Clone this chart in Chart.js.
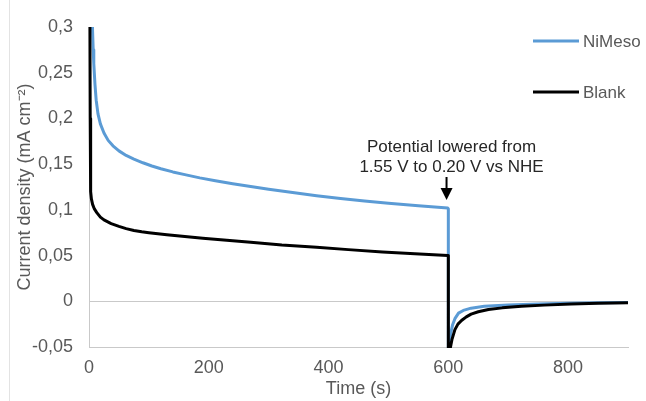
<!DOCTYPE html>
<html>
<head>
<meta charset="utf-8">
<script src="https://cdn.jsdelivr.net/npm/chart.js@4/dist/chart.umd.min.js"></script>
<style>
  html, body { margin: 0; padding: 0; background: #ffffff; }
  #wrap { width: 646px; height: 401px; position: relative; }
</style>
</head>
<body>
<div id="wrap"><canvas id="c" width="646" height="401"></canvas></div>
<script>
// ---- data ----
const nimesoTime = [5, 6, 7, 8, 10, 12, 15, 19, 25, 32, 40, 50, 62, 75, 90, 105, 120, 140, 160, 185, 211, 240, 270, 300, 340, 380, 420, 460, 500, 550, 599, 600, 600, 602, 604, 607, 611, 617, 625, 638, 660, 700, 750, 800, 850, 900];
const nimesoCurrent = [0.32, 0.295, 0.275, 0.26, 0.237, 0.22, 0.205, 0.194, 0.184, 0.176, 0.170, 0.1645, 0.1595, 0.1555, 0.1515, 0.148, 0.145, 0.1415, 0.1385, 0.135, 0.1318, 0.1285, 0.1255, 0.1225, 0.119, 0.1155, 0.1125, 0.1098, 0.1073, 0.1045, 0.102, 0.101, -0.06, -0.045, -0.035, -0.026, -0.019, -0.013, -0.010, -0.0075, -0.0055, -0.004, -0.003, -0.0022, -0.0016, -0.0012];
const blankTime = [1.5, 2, 2.5, 3, 4, 6, 9, 13, 19, 25, 37, 50, 62, 75, 88, 100, 130, 160, 190, 230, 270, 322, 380, 433, 490, 544, 599, 600, 600, 603, 606, 611, 616, 622, 630, 638, 650, 667, 690, 722, 760, 805, 850, 900];
const blankCurrent = [0.31, 0.2, 0.14, 0.12, 0.112, 0.106, 0.101, 0.097, 0.092, 0.089, 0.085, 0.082, 0.0795, 0.0775, 0.076, 0.075, 0.0728, 0.0708, 0.069, 0.0668, 0.0645, 0.0615, 0.059, 0.0565, 0.054, 0.052, 0.050, 0.050, -0.06, -0.052, -0.042, -0.031, -0.025, -0.021, -0.017, -0.014, -0.0115, -0.009, -0.0072, -0.0055, -0.0042, -0.003, -0.0022, -0.0015];
const seriesNames = ['NiMeso', 'Blank'];
const xTicks = [0, 200, 400, 600, 800];
const yTicks = [-0.05, 0, 0.05, 0.1, 0.15, 0.2, 0.25, 0.3];
const yTickLabels = ['-0,05', '0', '0,05', '0,1', '0,15', '0,2', '0,25', '0,3'];
const xTitle = 'Time (s)';
const yTitle = 'Current density (mA cm\u207B\u00B2)';
const annotationLines = ['Potential lowered from', '1.55 V to 0.20 V vs NHE'];
const annotationTime = 597;

// ---- chart ----
const FONT = '"Liberation Sans", Arial, sans-serif';
const toPoints = (xs, ys) => xs.map((x, i) => ({ x: x, y: ys[i] }));

const decoPlugin = {
  id: 'deco',
  beforeDraw(chart) {
    const ctx = chart.ctx;
    ctx.save();
    ctx.fillStyle = '#ffffff';
    ctx.fillRect(0, 0, chart.width, chart.height);
    ctx.strokeStyle = '#e3e3e3';
    ctx.lineWidth = 1;
    ctx.beginPath();
    ctx.moveTo(9.5, 0);
    ctx.lineTo(9.5, chart.height);
    ctx.stroke();
    ctx.restore();
  },
  afterDraw(chart) {
    const ctx = chart.ctx;
    const xs = chart.scales.x;
    ctx.save();
    // annotation
    const ax = xs.getPixelForValue(annotationTime);
    ctx.fillStyle = '#262626';
    ctx.font = '17px ' + FONT;
    ctx.textAlign = 'center';
    ctx.textBaseline = 'middle';
    ctx.fillText(annotationLines[0], ax + 5, 147);
    ctx.fillText(annotationLines[1], ax + 5, 167);
    ctx.strokeStyle = '#000000';
    ctx.lineWidth = 2;
    ctx.beginPath();
    ctx.moveTo(ax, 177);
    ctx.lineTo(ax, 190);
    ctx.stroke();
    ctx.fillStyle = '#000000';
    ctx.beginPath();
    ctx.moveTo(ax - 6, 188);
    ctx.lineTo(ax + 6, 188);
    ctx.lineTo(ax, 200);
    ctx.closePath();
    ctx.fill();
    // legend
    const ys = [41, 92];
    chart.data.datasets.forEach((ds, i) => {
      ctx.strokeStyle = ds.borderColor;
      ctx.lineWidth = 3;
      ctx.beginPath();
      ctx.moveTo(533, ys[i]);
      ctx.lineTo(579, ys[i]);
      ctx.stroke();
      ctx.fillStyle = '#595959';
      ctx.font = '17px ' + FONT;
      ctx.textAlign = 'left';
      ctx.textBaseline = 'middle';
      ctx.fillText(ds.label, 583, ys[i] + 1);
    });
    ctx.restore();
  }
};

new Chart(document.getElementById('c'), {
  type: 'line',
  data: {
    datasets: [
      {
        label: seriesNames[0],
        data: toPoints(nimesoTime, nimesoCurrent),
        borderColor: '#5B9BD5',
        borderWidth: 3,
        pointRadius: 0,
        tension: 0,
        borderJoinStyle: 'round',
        fill: false,
        order: 1,
        clip: { left: 2, top: 0, right: 2, bottom: 1 }
      },
      {
        label: seriesNames[1],
        data: toPoints(blankTime, blankCurrent),
        borderColor: '#000000',
        borderWidth: 3,
        pointRadius: 0,
        tension: 0,
        borderJoinStyle: 'round',
        fill: false,
        order: 0,
        clip: { left: 2, top: 0, right: 2, bottom: 1 }
      }
    ]
  },
  options: {
    responsive: false,
    animation: false,
    devicePixelRatio: 1,
    layout: { padding: { left: 0, top: 27, right: 18, bottom: 0 } },
    plugins: { legend: { display: false }, tooltip: { enabled: false } },
    scales: {
      x: {
        type: 'linear',
        min: 0,
        max: 900,
        afterBuildTicks: s => { s.ticks = xTicks.map(v => ({ value: v })); },
        afterFit: s => { s.height = 54; },
        grid: { display: false, drawTicks: false },
        border: { display: true, color: '#c9c9c9', width: 1 },
        ticks: { color: '#595959', font: { family: FONT, size: 18 }, padding: 10, maxRotation: 0 },
        title: { display: true, text: xTitle, color: '#595959', font: { family: FONT, size: 18 }, padding: { top: 0, bottom: 1 } }
      },
      y: {
        type: 'linear',
        min: -0.05,
        max: 0.3,
        afterBuildTicks: s => { s.ticks = yTicks.map(v => ({ value: v })); },
        afterFit: s => { s.width = 89; },
        grid: {
          drawTicks: false,
          color: c => (c.tick && Math.abs(c.tick.value) < 1e-9 ? '#c9c9c9' : 'rgba(0,0,0,0)'),
          lineWidth: 1
        },
        border: { display: true, color: '#c9c9c9', width: 1 },
        ticks: {
          color: '#595959',
          font: { family: FONT, size: 18 },
          padding: 16,
          callback: (v) => {
            const i = yTicks.findIndex(t => Math.abs(t - v) < 1e-9);
            return i >= 0 ? yTickLabels[i] : '';
          }
        },
        title: { display: true, text: yTitle, color: '#595959', font: { family: FONT, size: 18 }, padding: { top: 14, bottom: 0 } }
      }
    }
  },
  plugins: [decoPlugin]
});
</script>
</body>
</html>
